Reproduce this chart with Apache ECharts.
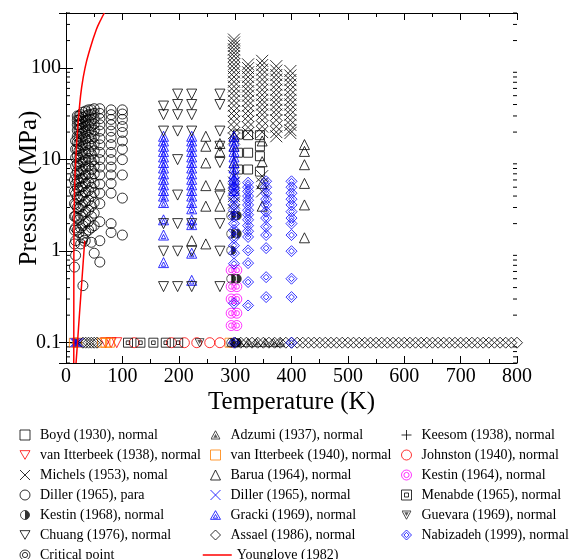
<!DOCTYPE html>
<html><head><meta charset="utf-8">
<script src="https://cdn.jsdelivr.net/npm/echarts@6/dist/echarts.min.js"></script>
<style>html,body{margin:0;padding:0;background:#fff}#c{width:569px;height:559px}</style>
</head><body><div id="c"></div>
<script>
// ---------- data (T in K, P in MPa) ----------
// vertical groups: [T, [P...]]
const boyd = [[305,[18.8,11.9,7.8]],[323,[18.5,11.9,7.8]],[344,[18.5,14,10.9,7.4]]];
const adzumiT = [293,308,323,338,353,368,380];          // at 0.1 MPa
const keesomT = [14.5,16.5,18.5,20.5];                   // at 0.1 MPa
const vanItterbeek38T = [70,80,90];                      // at 0.1 MPa
const vanItterbeek40T = [14,20,64,70,78,290];            // at 0.1 MPa
const johnstonT = [121,187,210,232,255,273];             // at 0.1 MPa
const michels = [
  [298,[205,190,175,160,147,135,122,110,100,90,80,71,63,56,50,44,39,34,30,26,22.5,19.5,17,6.6,5.6,4.7,4,3.4,2.8]],
  [323,[110,100,90,80,71,63,56,50,44,39,34,30,26,22.5,19.5]],
  [348,[120,108,96,85,75,66,58,51,45,40,35,31,27,23,20,6.6,5.5,4.5]],
  [373,[105,94,84,75,66,58,51,45,40,35,31,27,23,20,18]],
  [398,[93,83,74,66,58,51,45,40,35,31,27,24,21,19.5]]
];
const barua = [
  [223,[1.3]],
  [248,[18,14,9.2,5.2,3.1,1.2]],
  [273,[15,12.3,5.3,3.1]],
  [298,[18,14,9.2]],
  [348,[16,9.5,5.5,3.1]],
  [423,[14.6,12.3,8.8,5.5,3.2,1.4]]
];
const kestin64 = [[293,[0.62,0.41,0.30,0.21,0.154]],[303,[0.62,0.41,0.30,0.21,0.154]]];
const dillerPara = [
  [15,[6,4.5,3.3,2.4,1.7,1.2,0.67]],
  [17,[16,13,10.5,8.5,6.8,5.4,4.2,3.2,2.4,1.8,1.3,0.9]],
  [20,[30,27,24,21,18,15.5,13,11,9,7.4,6,4.9,3.9,3.0,2.3,1.7]],
  [23,[30,27,24,21,18,15,12.5,10.3,8.5,7,5.7,4.6,3.7,2.9,2.2,1.6]],
  [26,[31,28,25,22,19,16,13.5,11.3,9.3,7.6,6.2,5,4,3.1,2.4,1.8,1.2]],
  [30,[33,29,26,22.5,19.5,16.5,14,11.5,9.5,7.8,6.3,5.1,4.1,3.2,2.5,1.9,1.4,0.42]],
  [35,[34,30,26.5,23,20,17,14.5,12,10,8.3,6.8,5.5,4.4,3.5,2.7,2.1,1.6]],
  [40,[35,31,27,23.5,20.5,17.5,15,12.5,10.3,8.5,7,5.7,4.6,3.6,2.8,2.1,1.7]],
  [45,[35,31,27,23.5,20,17,14,11.5,9.5,7.8,6.3,5,4,3.1,2.4,1.8,1.25]],
  [50,[36,32,28,24.5,21,18,15,12.5,10,8.5,7,5.5,4.4,3.4,2.6,1.9,0.95]],
  [60,[36,32,28,24,20.5,17,14.5,12,10,8.3,6.8,5.4,4.3,3.3,2.1,1.3,0.76]],
  [80,[35,31,27.5,24,20.5,17.5,14.6,12,10,8.3,6.8,5.5,4.3,2.0,1.6]],
  [100,[35,31.5,27.5,23,19.8,16,13,10,6.8,3.8,1.5]]
];
const dillerNormalT = [15,17,19,21,23];                  // at 0.1 MPa
const menabdeT = [110,132,155,177,199];                  // at 0.1 MPa
const kestin68 = [[293,[2.45,1.55,1.02,0.5,0.1]],[303,[2.45,1.55,0.5,0.1]]];
const gracki = [
  [173,[18,16,14,12.3,10.7,9.3,8.1,7,6.1,5.3,4.6,4.0,3.4,2.2,1.5,0.75]],
  [223,[18,16,14,12.3,10.7,9.3,8.1,7,6.1,5.3,4.6,4.0,3.4,2.9,2.2,1.95,0.95,0.48]],
  [298,[18,16,14,12.3,10.7,9.3,8.1,7,6.1,5.3,4.6]]
];
const guevaraT = [237];                                  // at 0.1 MPa
const chuang = [
  [173,[38.5,31,20.5,2.0,1.0,0.41]],
  [198,[52,40,31,20.5,10,4.1,2.0,1.0,0.41]],
  [223,[52,40,31,20.5,2.0,1.0,0.41]],
  [273,[52,40,20.5,14,9.3,4.0,2.0,1.0,0.41]]
];
const assaelT = [30,35,40,45,50,55,
  300,310,320,330,340,350,360,370,380,390,400,410,420,430,440,450,460,470,480,490,
  500,510,520,530,540,550,560,570,580,590,600,610,620,630,640,650,660,670,680,690,
  700,710,720,730,740,750,760,770,780,790,800];          // at 0.1 MPa
const nabizadeh = [
  [298,[5.8,5.0,4.3,3.7,3.2,2.8,2.4,2.0,1.7,1.4,1.15,0.95,0.73,0.27,0.1]],
  [323,[5.6,5.0,4.5,4.0,3.6,3.2,2.8,2.5,2.2,1.9,1.65,1.43,1.02,0.74,0.46,0.255]],
  [355,[5.8,5.0,4.3,3.7,3.2,2.7,2.3,1.85,1.5,1.08,0.52,0.315]],
  [400,[5.8,5.0,4.3,3.7,3.2,2.7,2.3,2.0,1.5,1.0,0.5,0.315,0.1]]
];
const criticalPoint = [[33.2,1.3]];
const youngloveMelting = [[13.8,0.06],[13.9,0.5],[14.1,1.5],[14.6,3],[15.4,5],[16.5,8],[17.7,11],[20,19],[23.6,36],[27.8,62],[33.7,100],[41,150],[54,265],[62,340],[68,400]];
const youngloveVapor = [[17.8,0.06],[20.4,0.1],[24,0.21],[28,0.46],[33.2,1.3]];
const atmP = 0.1;
const xTicks = {min:0, max:800, interval:100};
const yRange = {min:0.06, max:400};
const minorY = [0.06,0.07,0.08,0.09,0.2,0.3,0.4,0.5,0.6,0.7,0.8,0.9,2,3,4,5,6,7,8,9,20,30,40,50,60,70,80,90,200,300,400];

// ---------- helpers ----------
function cols(groups){ const out=[]; groups.forEach(g=>g[1].forEach(p=>out.push([g[0],p]))); return out; }
function row(ts,p){ return ts.map(t=>[t,p]); }
const FONT='Liberation Serif';
const BLACK='#000', RED='#ff0000', ORANGE='#ff8000', MAGENTA='#ff00ff', BLUE='#0000ff';
function svgImg(s){ return 'image://data:image/svg+xml;charset=utf-8,'+encodeURIComponent("<svg xmlns='http://www.w3.org/2000/svg' width='40' height='40' viewBox='0 0 40 40'>"+s+"</svg>"); }
const SYM = {
  itri:'path://M0,0L10,0L5,8.66Z',
  cross:'path://M0,0L10,10M10,0L0,10',
  plus:'path://M5,0L5,10M0,5L10,5',
  ddiam:'path://M5,0L10,5L5,10L0,5Z M5,2.4L7.6,5L5,7.6L2.4,5Z',
  dcirc:'path://M10,5A5,5,0,1,1,0,5A5,5,0,1,1,10,5Z M7.6,5A2.6,2.6,0,1,1,2.4,5A2.6,2.6,0,1,1,7.6,5Z',
  sqsq:'path://M0,0L10,0L10,10L0,10Z M3,3L7,3L7,7L3,7Z',
  tritri:'path://M5,0L10,8.66L0,8.66Z M5,3.8L7.2,7.5L2.8,7.5Z',
  half: svgImg("<circle cx='20' cy='20' r='18' fill='none' stroke='black' stroke-width='3.5'/><path d='M20,2 A18,18 0 0,1 20,38 Z' fill='black'/>"),
  adz: svgImg("<path d='M20,3 L38,36 L2,36 Z' fill='none' stroke='black' stroke-width='3.5'/><path d='M20,15 L29,31 L11,31 Z' fill='#333'/>"),
  gue: svgImg("<path d='M2,4 L38,4 L20,37 Z' fill='none' stroke='black' stroke-width='3.5'/><path d='M11,9 L29,9 L20,25 Z' fill='#333'/>")
};
function sc(name, data, symbol, size, color){
  return {type:'scatter', name, data, symbol, symbolSize:size, silent:true,
    itemStyle:{color:'transparent', borderColor:color, borderWidth:1},
    emphasis:{disabled:true}, animation:false};
}
const series = [
  sc('Boyd (1930), normal', cols(boyd), 'rect', 9, BLACK),
  sc('Adzumi (1937), normal', row(adzumiT,atmP), SYM.adz, 10, BLACK),
  sc('Keesom (1938), normal', row(keesomT,atmP), SYM.plus, 10, BLACK),
  sc('van Itterbeek (1938), normal', row(vanItterbeek38T,atmP), SYM.itri, 10, RED),
  sc('van Itterbeek (1940), normal', row(vanItterbeek40T,atmP), 'rect', 9, ORANGE),
  sc('Johnston (1940), normal', row(johnstonT,atmP), 'circle', 10, RED),
  sc('Michels (1953), nomal', cols(michels), SYM.cross, 12, BLACK),
  sc('Barua (1964), normal', cols(barua), 'triangle', 10, BLACK),
  sc('Kestin (1964), normal', cols(kestin64), SYM.dcirc, 10, MAGENTA),
  sc('Diller (1965), para', cols(dillerPara), 'circle', 10, BLACK),
  sc('Diller (1965), normal', row(dillerNormalT,atmP), SYM.cross, 9, BLUE),
  sc('Menabde (1965), normal', row(menabdeT,atmP), SYM.sqsq, 9, BLACK),
  sc('Kestin (1968), normal', cols(kestin68), SYM.half, 10, BLACK),
  sc('Gracki (1969), normal', cols(gracki), SYM.tritri, 10, BLUE),
  sc('Guevara (1969), normal', row(guevaraT,atmP), SYM.gue, 10, BLACK),
  sc('Chuang (1976), normal', cols(chuang), SYM.itri, 10, BLACK),
  sc('Assael (1986), normal', row(assaelT,atmP), 'diamond', 11, BLACK),
  sc('Nabizadeh (1999), normal', cols(nabizadeh), SYM.ddiam, 11, BLUE),
  sc('Critical point', criticalPoint, SYM.dcirc, 11, BLACK),
  {type:'line', name:'Younglove (1982)', data:youngloveMelting, symbol:'none', smooth:true, lineStyle:{color:RED,width:1.5}, itemStyle:{color:RED}, silent:true, animation:false},
  {type:'line', name:'Younglove (1982)', data:youngloveVapor, symbol:'none', smooth:true, lineStyle:{color:RED,width:1.5}, itemStyle:{color:RED}, silent:true, animation:false},
  {type:'custom', name:'minorTicks', silent:true, animation:false, clip:false,
    data:minorY.map(v=>[xTicks.min,v]),
    renderItem:function(params, api){
      const v=api.value(1);
      const pl=api.coord([xTicks.min,v]), pr=api.coord([xTicks.max,v]);
      const st={stroke:'#000',lineWidth:1};
      return {type:'group',children:[
        {type:'line',shape:{x1:pl[0],y1:pl[1],x2:pl[0]+4,y2:pl[1]},style:st},
        {type:'line',shape:{x1:pr[0]-4,y1:pr[1],x2:pr[0],y2:pr[1]},style:st}
      ]};
    }}
];
const legText = {fontFamily:FONT, fontSize:14, color:'#000', lineHeight:20, padding:[0,0,0,5]};
function leg(left, top, names){
  return {orient:'vertical', left, top, itemWidth:10, itemHeight:10, itemGap:0, padding:0,
    data:names, textStyle:legText, selectedMode:false, itemStyle:{borderWidth:1}};
}
const col1=['Boyd (1930), normal','van Itterbeek (1938), normal','Michels (1953), nomal','Diller (1965), para','Kestin (1968), normal','Chuang (1976), normal'];
const col2=['Adzumi (1937), normal','van Itterbeek (1940), normal','Barua (1964), normal','Diller (1965), normal','Gracki (1969), normal','Assael (1986), normal'];
const col3=['Keesom (1938), normal','Johnston (1940), normal','Kestin (1964), normal','Menabde (1965), normal','Guevara (1969), normal','Nabizadeh (1999), normal'];

const axisLineStyle={lineStyle:{color:'#000',width:1}};
const lab={fontFamily:FONT, fontSize:20, color:'#000'};
function logFmt(v){ const l=Math.log10(v); return Math.abs(l-Math.round(l))<1e-6 ? String(Number(v.toPrecision(6))) : ''; }

const option = {
  backgroundColor:'#fff',
  animation:false,
  grid:{left:66, right:52, top:13, bottom:196, containLabel:false, outerBoundsMode:'none'},
  xAxis:[
    {type:'value', position:'bottom', min:xTicks.min, max:xTicks.max, interval:xTicks.interval,
     axisLine:axisLineStyle, axisTick:{inside:true,length:7,lineStyle:{color:'#000'}},
     minorTick:{show:true,splitNumber:2,length:4,lineStyle:{color:'#000'}},
     splitLine:{show:false}, axisLabel:{...lab, margin:4},
     name:'Temperature (K)', nameLocation:'middle', nameGap:27, nameMoveOverlap:false,
     nameTextStyle:{fontFamily:FONT,fontSize:25,color:'#000'}},
    {type:'value', position:'top', min:xTicks.min, max:xTicks.max, interval:xTicks.interval,
     axisLine:axisLineStyle, axisTick:{inside:true,length:7,lineStyle:{color:'#000'}},
     minorTick:{show:true,splitNumber:2,length:4,lineStyle:{color:'#000'}},
     splitLine:{show:false}, axisLabel:{show:false}}
  ],
  yAxis:[
    {type:'log', position:'left', min:yRange.min, max:yRange.max, logBase:10,
     axisLine:axisLineStyle, axisTick:{inside:true,length:7,lineStyle:{color:'#000'}},
     minorTick:{show:false}, splitLine:{show:false},
     axisLabel:{...lab, margin:5, formatter:logFmt},
     name:'Pressure (MPa)', nameLocation:'middle', nameGap:24, nameRotate:90, nameMoveOverlap:false,
     nameTextStyle:{fontFamily:FONT,fontSize:25,color:'#000'}},
    {type:'log', position:'right', min:yRange.min, max:yRange.max, logBase:10,
     axisLine:axisLineStyle, axisTick:{inside:true,length:7,lineStyle:{color:'#000'}},
     minorTick:{show:false}, splitLine:{show:false}, axisLabel:{show:false}}
  ],
  legend:[
    leg(19.5,425,col1),
    leg(210,425,col2),
    leg(401,425,col3),
    leg(19.5,545,['Critical point']),
    {orient:'vertical', left:202, top:545, itemWidth:29, itemHeight:10, padding:0,
     data:['Younglove (1982)'], selectedMode:false,
     textStyle:{fontFamily:FONT, fontSize:14, color:'#000', lineHeight:20},
     itemStyle:{color:'transparent', borderColor:'transparent', borderWidth:0},
     lineStyle:{width:1.5}}
  ],
  series:series
};
const chart = echarts.init(document.getElementById('c'), null, {renderer:'canvas'});
chart.setOption(option);
</script></body></html>
